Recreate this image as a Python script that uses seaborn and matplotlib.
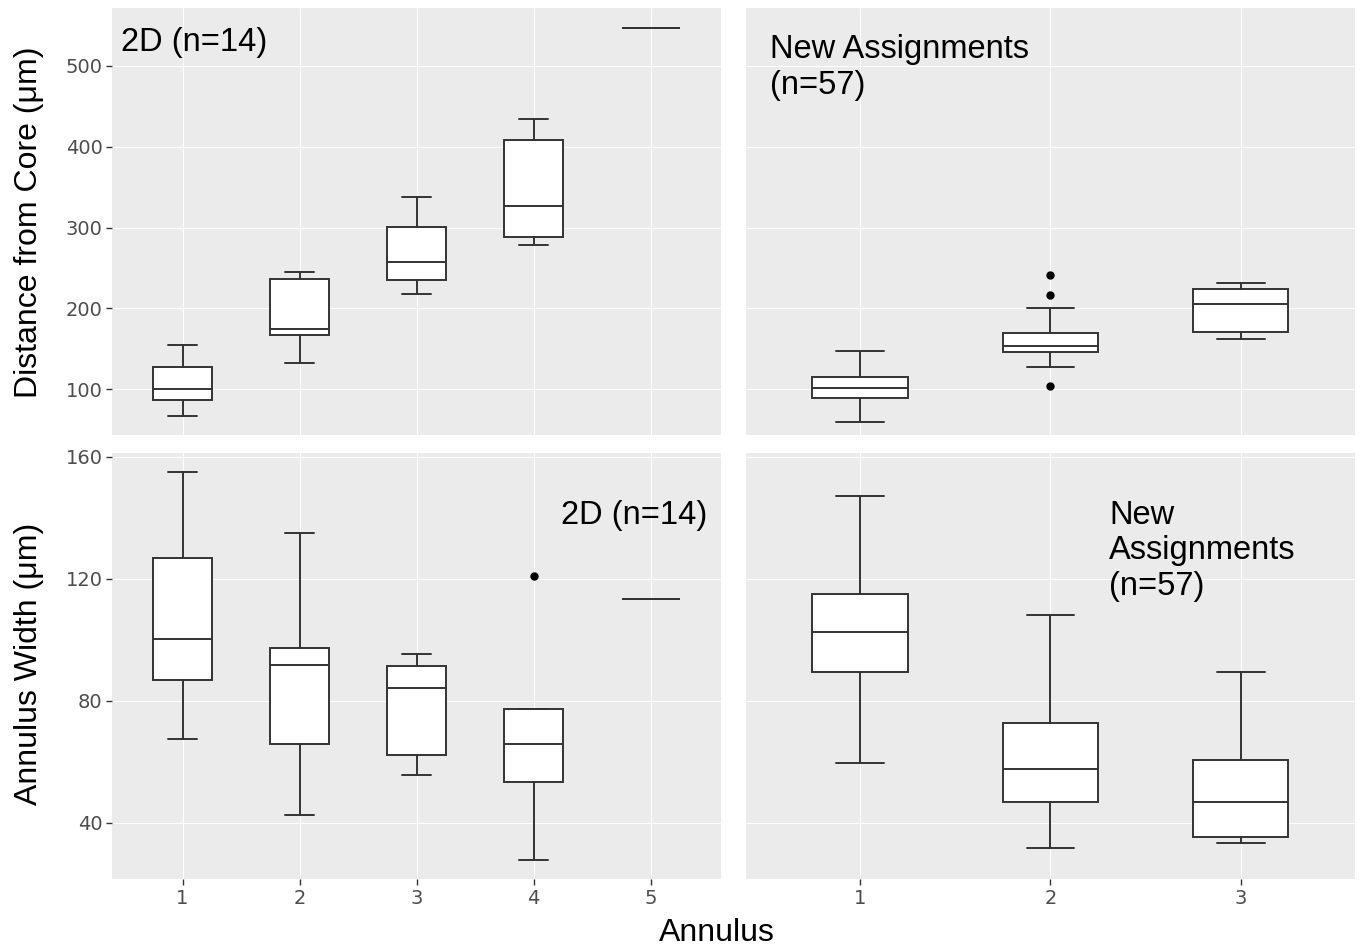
import matplotlib
matplotlib.use("Agg")
import matplotlib.pyplot as plt
import seaborn as sns

# x categories
annulus_2d = [1, 2, 3, 4, 5]
annulus_new = [1, 2, 3]

# Distance from core (um), 2D (n=14): whisker low, Q1, median, Q3, whisker high, outliers
dist_2d_low = [67, 132, 218, 278, 547]
dist_2d_q1 = [87, 167, 235, 288, 547]
dist_2d_med = [100, 174, 258, 327, 547]
dist_2d_q3 = [127, 237, 301, 408, 547]
dist_2d_high = [155, 245, 338, 434, 547]
dist_2d_out = [[], [], [], [], []]

# Distance from core (um), New Assignments (n=57)
dist_new_low = [59, 128, 162]
dist_new_q1 = [89, 146, 171]
dist_new_med = [102, 154, 205]
dist_new_q3 = [115, 170, 224]
dist_new_high = [147, 201, 231]
dist_new_out = [[], [104, 216, 241], []]

# Annulus width (um), 2D (n=14)
width_2d_low = [67.5, 42.5, 55.6, 27.8, 113.4]
width_2d_q1 = [86.8, 65.8, 62.2, 53.2, 113.4]
width_2d_med = [100.2, 91.7, 84.0, 65.7, 113.4]
width_2d_q3 = [126.9, 97.2, 91.5, 77.3, 113.4]
width_2d_high = [155.0, 135.1, 95.2, 77.3, 113.4]
width_2d_out = [[], [], [], [120.7], []]

# Annulus width (um), New Assignments (n=57)
width_new_low = [59.6, 31.6, 33.4]
width_new_q1 = [89.5, 46.6, 35.3]
width_new_med = [102.5, 57.7, 46.6]
width_new_q3 = [115.1, 72.6, 60.5]
width_new_high = [147.2, 108.2, 89.5]
width_new_out = [[], [], []]

sns.set_theme(style="darkgrid", rc={"axes.facecolor": "#EBEBEB",
                                     "grid.color": "white",
                                     "grid.linewidth": 0.7})
plt.rcParams['font.family'] = ['DejaVu Sans']

LINE = "#333333"
TEXT_FONT = ['Liberation Sans', 'DejaVu Sans']

fig = plt.figure(figsize=(13.63, 9.52), dpi=100)
ax_tl = fig.add_axes([0.0824, 0.5431, 0.4466, 0.4482])
ax_tr = fig.add_axes([0.5471, 0.5431, 0.4470, 0.4482])
ax_bl = fig.add_axes([0.0824, 0.0764, 0.4466, 0.4481])
ax_br = fig.add_axes([0.5471, 0.0764, 0.4470, 0.4481])


def draw_boxes(ax, pos, low, q1, med, q3, high, out):
    stats = []
    for a, b, c, d, e, f in zip(low, q1, med, q3, high, out):
        stats.append(dict(whislo=a, q1=b, med=c, q3=d, whishi=e, fliers=f))
    ax.bxp(stats, positions=pos, widths=0.5, capwidths=0.25,
           patch_artist=True, manage_ticks=False,
           boxprops=dict(facecolor="white", edgecolor=LINE, linewidth=1.4),
           medianprops=dict(color=LINE, linewidth=1.4),
           whiskerprops=dict(color=LINE, linewidth=1.4),
           capprops=dict(color=LINE, linewidth=1.4),
           flierprops=dict(marker="o", markerfacecolor="black",
                           markeredgecolor="black", markersize=5))
    ax.set_xticks(pos)
    ax.set_xlim(0.4, len(pos) + 0.6)
    ax.set_axisbelow(True)
    ax.grid(True, color="white", linewidth=0.7)
    for s in ax.spines.values():
        s.set_visible(False)
    ax.tick_params(axis="both", labelsize=14, labelcolor="#4D4D4D",
                   color=LINE, length=4, width=1, pad=3)


draw_boxes(ax_tl, annulus_2d, dist_2d_low, dist_2d_q1, dist_2d_med,
           dist_2d_q3, dist_2d_high, dist_2d_out)
draw_boxes(ax_tr, annulus_new, dist_new_low, dist_new_q1, dist_new_med,
           dist_new_q3, dist_new_high, dist_new_out)
draw_boxes(ax_bl, annulus_2d, width_2d_low, width_2d_q1, width_2d_med,
           width_2d_q3, width_2d_high, width_2d_out)
draw_boxes(ax_br, annulus_new, width_new_low, width_new_q1, width_new_med,
           width_new_q3, width_new_high, width_new_out)

for ax in (ax_tl, ax_tr):
    ax.set_ylim(43.4, 571.4)
    ax.set_yticks([100, 200, 300, 400, 500])
    ax.tick_params(axis="x", bottom=False, labelbottom=False)
for ax in (ax_bl, ax_br):
    ax.set_ylim(21.4, 161.3)
    ax.set_yticks([40, 80, 120, 160])
    ax.tick_params(axis="x", bottom=True, labelbottom=True)
ax_tl.tick_params(axis="y", left=True)
ax_bl.tick_params(axis="y", left=True)
for ax in (ax_tr, ax_br):
    ax.tick_params(axis="y", left=False, labelleft=False)

# panel labels
ax_tl.text(0.015, 0.955, "2D (n=14)", transform=ax_tl.transAxes, color="black",
           ha="left", va="top", fontsize=23.5, family=TEXT_FONT)
ax_tr.text(0.04, 0.94, "New Assignments\n(n=57)", transform=ax_tr.transAxes,
           color="black", ha="left", va="top", fontsize=23.5, family=TEXT_FONT)
ax_bl.text(0.977, 0.89, "2D (n=14)", transform=ax_bl.transAxes, color="black",
           ha="right", va="top", fontsize=23.5, family=TEXT_FONT)
ax_br.text(0.597, 0.89, "New\nAssignments\n(n=57)", transform=ax_br.transAxes,
           color="black", ha="left", va="top", fontsize=23.5, family=TEXT_FONT)

# axis titles
fig.text(29 / 1363, 1 - 222 / 952, "Distance from Core (μm)", rotation=90,
         ha="center", va="center", fontsize=23, color="black", family=TEXT_FONT)
fig.text(29 / 1363, 1 - 664 / 952, "Annulus Width (μm)", rotation=90,
         ha="center", va="center", fontsize=23, color="black", family=TEXT_FONT)
fig.text(717 / 1363, 1 - 933 / 952, "Annulus", ha="center", va="center",
         fontsize=23, color="black", family=TEXT_FONT)

fig.savefig("out.png", dpi=100, facecolor="white")
